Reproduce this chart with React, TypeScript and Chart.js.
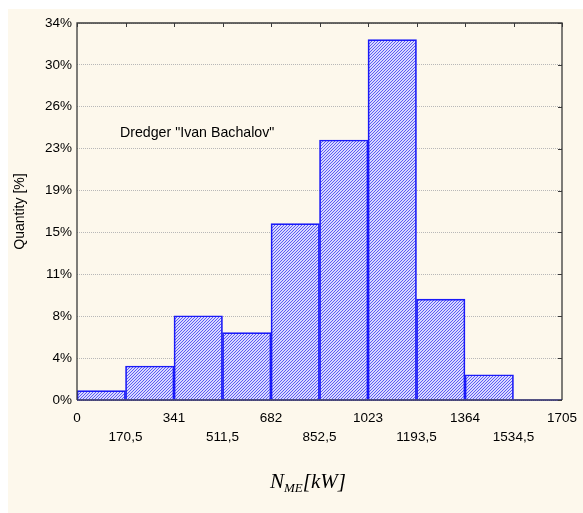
import React, { useEffect, useRef } from "react";
import { Chart, registerables } from "chart.js";

Chart.register(...registerables);

const xEdges = [0, 170.5, 341, 511.5, 682, 852.5, 1023, 1193.5, 1364, 1534.5, 1705];
const quantities = [0.84, 3.07, 7.6, 6.07, 15.9, 23.45, 32.5, 9.1, 2.28, 0];
const xTickLabels = ["0", "170,5", "341", "511,5", "682", "852,5", "1023", "1193,5", "1364", "1534,5", "1705"];
const yTickLabels = ["0%", "4%", "8%", "11%", "15%", "19%", "23%", "26%", "30%", "34%"];
const yMax = 34;
const annotationText = 'Dredger "Ivan Bachalov"';
const annotationPos = { x: 151, y: 24.05 };

function makePattern(): CanvasPattern | string {
  const tile = document.createElement("canvas");
  tile.width = 3;
  tile.height = 3;
  const c = tile.getContext("2d");
  if (!c) return "#9a9af0";
  c.fillStyle = "#d8d8ff";
  c.fillRect(0, 0, 3, 3);
  c.fillStyle = "#5c5cf2";
  for (let i = 0; i < 3; i++) {
    c.fillRect(i, 2 - i, 1, 1);
  }
  const p = c.createPattern(tile, "repeat");
  return p || "#9a9af0";
}

export default function App() {
  const ref = useRef<HTMLCanvasElement | null>(null);

  useEffect(() => {
    if (!ref.current) return;
    const pattern = makePattern();
    const sans = "Liberation Sans, Arial, sans-serif";

    const decor = {
      id: "decor",
      afterDatasetsDraw(chart: any) {
        const { ctx, chartArea } = chart;
        const xs = chart.scales.x;
        const ys = chart.scales.y;
        const { left, right, top, bottom } = chartArea;
        ctx.save();
        // frame
        ctx.lineWidth = 1.3;
        ctx.strokeStyle = "#3a3a3a";
        ctx.beginPath();
        ctx.moveTo(left, bottom);
        ctx.lineTo(left, top);
        ctx.lineTo(right, top);
        ctx.lineTo(right, bottom);
        ctx.stroke();
        ctx.strokeStyle = "#1c1c60";
        ctx.lineWidth = 1.6;
        ctx.beginPath();
        ctx.moveTo(left, bottom);
        ctx.lineTo(right, bottom);
        ctx.stroke();
        // inward ticks
        ctx.strokeStyle = "#3a3a3a";
        ctx.lineWidth = 1;
        ctx.beginPath();
        xEdges.forEach((v) => {
          const px = Math.round(xs.getPixelForValue(v)) + 0.5;
          ctx.moveTo(px, top);
          ctx.lineTo(px, top + 4);
        });
        yTickLabels.forEach((_, i) => {
          const py = Math.round(ys.getPixelForValue((i * yMax) / (yTickLabels.length - 1))) + 0.5;
          ctx.moveTo(right, py);
          ctx.lineTo(right - 4, py);
        });
        ctx.stroke();
        // annotation
        ctx.fillStyle = "#000";
        ctx.font = "14.2px " + sans;
        ctx.textAlign = "left";
        ctx.textBaseline = "middle";
        ctx.fillText(annotationText, xs.getPixelForValue(annotationPos.x), ys.getPixelForValue(annotationPos.y));
        // x title  N_ME[kW]
        const big = "italic 21px 'Liberation Serif', 'Times New Roman', serif";
        const small = "italic 13px 'Liberation Serif', 'Times New Roman', serif";
        ctx.textBaseline = "alphabetic";
        ctx.font = big;
        const wN = ctx.measureText("N").width;
        const wK = ctx.measureText("[kW]").width;
        ctx.font = small;
        const wME = ctx.measureText("ME").width;
        const total = wN + wME + wK;
        const cx = 300;
        const base = 479;
        let x0 = cx - total / 2;
        ctx.font = big;
        ctx.fillText("N", x0, base);
        x0 += wN;
        ctx.font = small;
        ctx.fillText("ME", x0, base + 4);
        x0 += wME;
        ctx.font = big;
        ctx.fillText("[kW]", x0, base);
        ctx.restore();
      },
    };

    const chart = new Chart(ref.current, {
      type: "bar",
      data: {
        datasets: [
          {
            data: quantities.map((q, i) => ({ x: (xEdges[i] + xEdges[i + 1]) / 2, y: q })),
            backgroundColor: pattern as any,
            borderColor: "#1a1af8",
            borderWidth: 1.7,
            borderSkipped: "start",
            barPercentage: 1,
            categoryPercentage: 1,
          },
        ],
      },
      options: {
        animation: false,
        responsive: false,
        maintainAspectRatio: false,
        layout: { padding: { top: 14, right: 21, left: 0, bottom: 0 } },
        plugins: { legend: { display: false }, tooltip: { enabled: false } },
        scales: {
          x: {
            type: "linear",
            offset: false,
            min: 0,
            max: xEdges[xEdges.length - 1],
            grid: { display: false, drawTicks: false },
            border: { display: false },
            afterBuildTicks: (s: any) => {
              s.ticks = xEdges.map((v) => ({ value: v }));
            },
            afterFit: (s: any) => {
              s.height = 113;
              s.paddingLeft = 0;
              s.paddingRight = 0;
            },
            ticks: {
              autoSkip: false,
              maxRotation: 0,
              padding: 9,
              color: "#000",
              font: { family: sans, size: 13.5, lineHeight: 1.4 },
              callback: (_v: any, i: number) => (i % 2 === 0 ? xTickLabels[i] : ["", xTickLabels[i]]),
            },
          },
          y: {
            min: 0,
            max: yMax,
            afterBuildTicks: (s: any) => {
              s.ticks = yTickLabels.map((_, i) => ({ value: (i * yMax) / (yTickLabels.length - 1) }));
            },
            afterFit: (s: any) => {
              s.width = 69;
              s.paddingTop = 0;
              s.paddingBottom = 0;
            },
            grid: { color: "#b8b8b8", drawTicks: false, lineWidth: 1 },
            border: { display: false, dash: [1, 1] },
            ticks: {
              padding: 5,
              color: "#000",
              font: { family: sans, size: 13.5 },
              callback: (_v: any, i: number) => yTickLabels[i],
            },
            title: {
              display: true,
              text: "Quantity [%]",
              color: "#000",
              font: { family: sans, size: 14 },
              padding: { top: 4, bottom: 3 },
            },
          },
        },
      },
      plugins: [decor],
    } as any);
    return () => chart.destroy();
  }, []);

  return (
    <div
      style={{
        position: "fixed",
        top: 9,
        left: 8,
        right: 0,
        bottom: 0,
        background: "#fdf8ec",
      }}
    >
      <canvas ref={ref} width={575} height={504} style={{ display: "block", width: 575, height: 504 }} />
    </div>
  );
}
